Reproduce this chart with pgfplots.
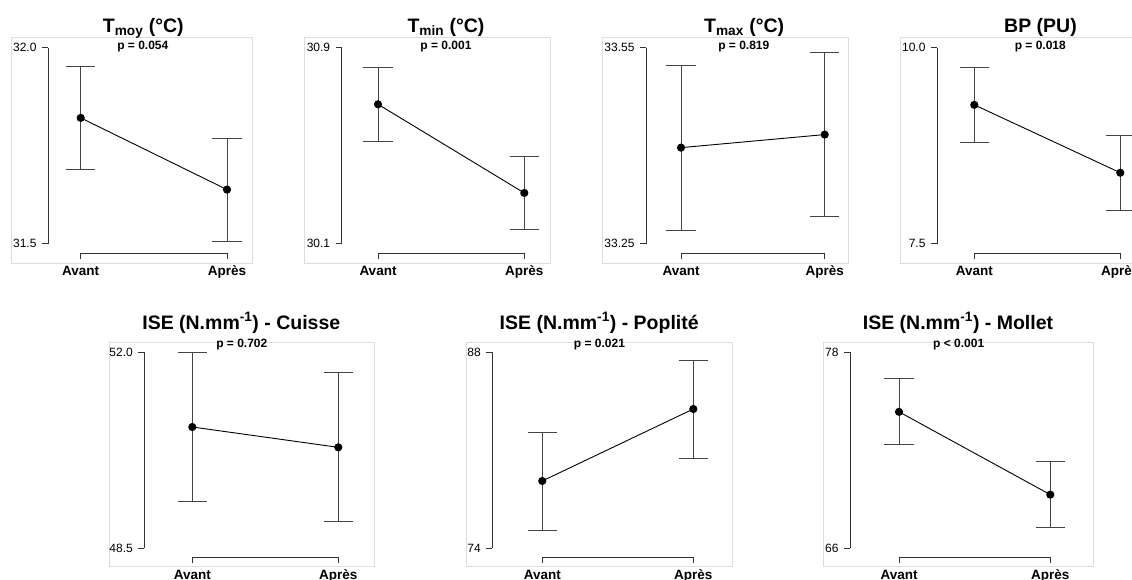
\documentclass[border=0pt]{standalone}
\usepackage{pgfplots}
\pgfplotsset{compat=1.18}
\usepackage{fontspec}
\setmainfont{Liberation Sans}
\definecolor{axc}{HTML}{333333}
\definecolor{errc}{HTML}{444444}
\definecolor{frc}{HTML}{DDDDDD}
\pgfplotsset{
  rf/.style={
    scale only axis, clip=false, anchor=south west,
    axis lines*=left,
    xmin=0, xmax=1, height=196pt,
    xtick={0,1}, xticklabels={Avant,Après},
    tick align=outside, major tick length=6pt,
    axis line style={line width=0.9pt, axc},
    every tick/.style={line width=0.9pt, axc},
    yticklabel style={font=\fontsize{12}{14}\selectfont, xshift=-2pt},
    xticklabel style={font=\fontsize{13.5}{16}\selectfont\bfseries, yshift=-3pt},
  },
  ms/.style={
    black, line width=0.9pt, mark=*, mark size=3.6pt,
    mark options={solid, fill=black},
    error bars/.cd, y dir=both, y explicit,
    error bar style={line width=0.9pt, errc},
    error mark options={rotate=90, mark size=14.7pt, line width=0.9pt, errc},
  },
}
\newcommand{\ttl}[3]{\node[anchor=base, font=\fontsize{19.5}{22}\selectfont\bfseries] at (#1pt,#2pt) {#3};}
\newcommand{\pv}[3]{\node[anchor=base, font=\fontsize{12}{14}\selectfont\bfseries] at (#1pt,#2pt) {#3};}
\newcommand{\frm}[4]{\draw[frc, line width=0.8pt] (#1pt,#2pt) rectangle (#3pt,#4pt);}
\begin{document}
\begin{tikzpicture}
\useasboundingbox (0pt,0pt) rectangle (1132pt,580pt);
\clip (0pt,0pt) rectangle (1132pt,580pt);
% frames
\frm{11}{317}{252}{543}
\frm{304.3}{317}{550}{543}
\frm{602.3}{317}{848.3}{543}
\frm{900.7}{317}{1147}{543}
\frm{109.3}{13.3}{374.3}{237.7}
\frm{466.7}{13.3}{732.3}{237.7}
\frm{823.7}{13.3}{1093.3}{237.7}

% Panel 1: Tmoy
\begin{axis}[rf, at={(80.7pt,336.3pt)}, width=146.3pt,
  ymin=31.5, ymax=32.0, ytick={31.5,32.0}, yticklabels={31.5,32.0},
  axis x line shift=9.6pt, axis y line shift=32.7pt]
\addplot[ms] coordinates {(0,31.821) +- (0,0.131) (1,31.638) +- (0,0.131)};
\end{axis}
% Panel 2: Tmin
\begin{axis}[rf, at={(378pt,336.3pt)}, width=146.3pt,
  ymin=30.1, ymax=30.9, ytick={30.1,30.9}, yticklabels={30.1,30.9},
  axis x line shift=9.6pt, axis y line shift=36.3pt]
\addplot[ms] coordinates {(0,30.669) +- (0,0.151) (1,30.307) +- (0,0.150)};
\end{axis}
% Panel 3: Tmax
\begin{axis}[rf, at={(681pt,336.3pt)}, width=143.7pt,
  ymin=33.25, ymax=33.55, ytick={33.25,33.55}, yticklabels={33.25,33.55},
  axis x line shift=9.6pt, axis y line shift=35pt]
\addplot[ms] coordinates {(0,33.397) +- (0,0.126) (1,33.417) +- (0,0.126)};
\end{axis}
% Panel 4: BP
\begin{axis}[rf, at={(974.3pt,336.3pt)}, width=146pt,
  ymin=7.5, ymax=10.0, ytick={7.5,10.0}, yticklabels={7.5,10.0},
  axis x line shift=9.6pt, axis y line shift=37.3pt]
\addplot[ms] coordinates {(0,9.271) +- (0,0.479) (1,8.405) +- (0,0.479)};
\end{axis}
% Panel 5: Cuisse
\begin{axis}[rf, at={(192.3pt,31.7pt)}, width=146pt,
  ymin=48.5, ymax=52.0, ytick={48.5,52.0}, yticklabels={48.5,52.0},
  axis x line shift=9pt, axis y line shift=48pt]
\addplot[ms] coordinates {(0,50.666) +- (0,1.333) (1,50.303) +- (0,1.329)};
\end{axis}
% Panel 6: Poplite
\begin{axis}[rf, at={(542.3pt,31.7pt)}, width=151pt,
  ymin=74, ymax=88, ytick={74,88}, yticklabels={74,88},
  axis x line shift=9pt, axis y line shift=50pt]
\addplot[ms] coordinates {(0,78.81) +- (0,3.5) (1,83.95) +- (0,3.5)};
\end{axis}
% Panel 7: Mollet
\begin{axis}[rf, at={(899pt,31.7pt)}, width=151.3pt,
  ymin=66, ymax=78, ytick={66,78}, yticklabels={66,78},
  axis x line shift=9pt, axis y line shift=49pt]
\addplot[ms] coordinates {(0,74.355) +- (0,2.015) (1,69.285) +- (0,2.005)};
\end{axis}

% titles
\ttl{143.3}{547.3}{T\textsubscript{moy} (°C)}
\pv{142.8}{530.7}{p = 0.054}
\ttl{446}{547.3}{T\textsubscript{min} (°C)}
\pv{446}{530.7}{p = 0.001}
\ttl{744.2}{547.3}{T\textsubscript{max} (°C)}
\pv{743.8}{530.7}{p = 0.819}
\ttl{1040.5}{547.3}{BP (PU)}
\pv{1040.3}{530.7}{p = 0.018}
\ttl{241.3}{250.7}{ISE (N.mm\textsuperscript{-1}) - Cuisse}
\pv{241.8}{232.7}{p = 0.702}
\ttl{599.2}{250.7}{ISE (N.mm\textsuperscript{-1}) - Poplité}
\pv{599.5}{232.7}{p = 0.021}
\ttl{958}{250.7}{ISE (N.mm\textsuperscript{-1}) - Mollet}
\pv{958.7}{232.7}{p < 0.001}
\end{tikzpicture}
\end{document}
